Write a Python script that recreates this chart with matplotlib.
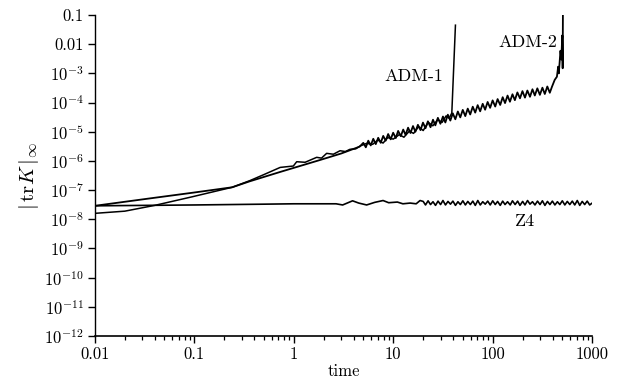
import matplotlib
matplotlib.use("Agg")
import matplotlib.pyplot as plt
from matplotlib.ticker import FixedLocator, NullLocator, LogLocator, NullFormatter

plt.rcParams['font.family'] = 'serif'
plt.rcParams['font.serif'] = ['cmr10']
plt.rcParams['mathtext.fontset'] = 'cm'
plt.rcParams['axes.formatter.use_mathtext'] = True

################## DATA ##############

# ADM-1: starts low, wiggles above ADM-2 for t ~ 0.5-5, blows up near t ~ 42
adm1_t = [0.01, 0.02, 0.04, 0.095, 0.24, 0.36, 0.5, 0.73, 0.99, 1.07, 1.3, 1.7,
          1.9, 2.14, 2.5, 2.92, 3.3, 3.67, 4.2, 4.63, 5.4, 6.2, 7.0, 7.9, 8.8,
          10.0, 11.5, 12.8, 14.5, 16.0, 18.0, 20.0, 22.5, 25.0, 28.0, 31.0,
          34.0, 36.5, 38.8, 42.2]
adm1_v = [1.6e-8, 1.9e-8, 3.0e-8, 5.9e-8, 1.25e-7, 2.1e-7, 3.4e-7, 6.0e-7,
          6.7e-7, 9.4e-7, 9.0e-7, 1.33e-6, 1.25e-6, 1.82e-6, 1.7e-6, 2.24e-6,
          2.1e-6, 2.5e-6, 2.6e-6, 3.24e-6, 4.0e-6, 3.7e-6, 5.2e-6, 4.1e-6,
          6.3e-6, 5.6e-6, 8.0e-6, 6.5e-6, 1.05e-5, 8.8e-6, 1.5e-5, 1.1e-5,
          2.1e-5, 1.6e-5, 2.6e-5, 2.1e-5, 3.5e-5, 2.9e-5, 4.4e-5, 4.5e-2]

# ADM-2: smooth early rise ...
adm2_early_t = [0.01, 0.0357, 0.095, 0.24, 0.36, 0.73, 1.84, 3.0, 4.6]
adm2_early_v = [2.9e-8, 5.2e-8, 8.1e-8, 1.25e-7, 2.0e-7, 4.2e-7, 1.08e-6, 1.8e-6, 3.1e-6]
# ... noisy band from t ~ 5 to 400 ...
adm2_band_t = [5.00, 5.30, 5.61, 5.94, 6.30, 6.67, 7.06, 7.48, 7.93, 8.39,
               8.89, 9.42, 9.98, 10.6, 11.2, 11.9, 12.6, 13.3, 14.1, 14.9,
               15.8, 16.7, 17.7, 18.8, 19.9, 21.1, 22.3, 23.7, 25.1, 26.5,
               28.1, 29.8, 31.6, 33.4, 35.4, 37.5, 39.7, 42.1, 44.6, 47.2,
               50.0, 53.0, 56.1, 59.4, 63.0, 66.7, 70.6, 74.8, 79.3, 83.9,
               88.9, 94.2, 99.8, 106, 112, 119, 126, 133, 141, 149,
               158, 167, 177, 188, 199, 211, 223, 237, 251, 265,
               281, 298, 316, 334, 354, 375, 394]
adm2_band_v = [4.17e-6, 2.93e-6, 4.95e-6, 3.40e-6, 5.74e-6, 3.77e-6, 6.22e-6, 4.18e-6, 7.21e-6, 4.95e-6,
               8.36e-6, 5.50e-6, 9.27e-6, 6.08e-6, 1.07e-5, 7.06e-6, 1.19e-5, 7.82e-6, 1.38e-5, 9.08e-6,
               1.57e-5, 1.00e-5, 1.73e-5, 1.14e-5, 2.06e-5, 1.32e-5, 2.28e-5, 1.43e-5, 2.59e-5, 1.66e-5,
               3.00e-5, 1.88e-5, 3.33e-5, 2.08e-5, 3.85e-5, 2.42e-5, 4.28e-5, 2.68e-5, 4.95e-5, 3.11e-5,
               5.62e-5, 3.44e-5, 6.22e-5, 3.91e-5, 7.23e-5, 4.53e-5, 8.18e-5, 5.02e-5, 9.08e-5, 5.69e-5,
               1.05e-4, 6.61e-5, 1.19e-4, 7.31e-5, 1.32e-4, 8.30e-5, 1.53e-4, 9.62e-5, 1.74e-4, 1.07e-4,
               1.93e-4, 1.21e-4, 2.23e-4, 1.40e-4, 2.47e-4, 1.48e-4, 2.59e-4, 1.58e-4, 2.86e-4, 1.75e-4,
               3.08e-4, 1.84e-4, 3.24e-4, 1.97e-4, 3.56e-4, 2.17e-4, 3.47e-4]
# ... and blow-up near t ~ 500
adm2_blowup_t = [420, 442, 455, 462, 480, 490, 500, 505, 508]
adm2_blowup_v = [6.0e-4, 7.7e-4, 1.7e-3, 1.0e-3, 6.0e-3, 3.0e-3, 2.0e-2, 1.5e-3, 0.13]

# Z4: stays flat around 3-4e-8 for the whole run
z4_early_t = [0.01, 0.1, 0.5, 1.0, 2.66, 3.1, 3.9, 4.5, 5.4, 6.5, 7.9, 9.0,
              11.0, 12.5, 14.8, 17.0, 18.6]
z4_early_v = [2.9e-8, 3.1e-8, 3.3e-8, 3.4e-8, 3.4e-8, 3.1e-8, 4.3e-8, 3.6e-8,
              3.1e-8, 3.8e-8, 4.4e-8, 3.7e-8, 3.9e-8, 3.4e-8, 3.6e-8, 3.4e-8, 4.4e-8]
z4_band_t = [20.0, 21.1, 22.4, 23.7, 25.1, 26.6, 28.2, 29.9, 31.6, 33.5,
             35.5, 37.6, 39.8, 42.2, 44.7, 47.3, 50.1, 53.1, 56.2, 59.6,
             63.1, 66.8, 70.8, 75.0, 79.4, 84.1, 89.1, 94.4, 100, 106,
             112, 119, 126, 133, 141, 150, 158, 168, 178, 188,
             200, 211, 224, 237, 251, 266, 282, 299, 316, 335,
             355, 376, 398, 422, 447, 473, 501, 531, 562, 596,
             631, 668, 708, 750, 794, 841, 891, 944, 1000]
z4_band_v = [4.1e-8, 3.1e-8, 4.3e-8, 3.2e-8, 4.0e-8, 3.0e-8, 4.2e-8, 3.2e-8, 4.4e-8, 3.1e-8,
             4.1e-8, 3.3e-8, 4.2e-8, 3.0e-8, 4.0e-8, 3.2e-8, 4.3e-8, 3.1e-8, 4.1e-8, 3.2e-8,
             4.2e-8, 3.0e-8, 4.4e-8, 3.1e-8, 4.0e-8, 3.3e-8, 4.2e-8, 3.1e-8, 4.3e-8, 3.2e-8,
             4.1e-8, 3.0e-8, 4.2e-8, 3.2e-8, 4.0e-8, 3.1e-8, 4.3e-8, 3.2e-8, 4.2e-8, 3.0e-8,
             4.1e-8, 3.1e-8, 4.4e-8, 3.3e-8, 4.0e-8, 3.1e-8, 4.2e-8, 3.2e-8, 4.3e-8, 3.0e-8,
             4.1e-8, 3.2e-8, 4.2e-8, 3.1e-8, 4.0e-8, 3.2e-8, 4.3e-8, 3.1e-8, 4.1e-8, 3.2e-8,
             4.2e-8, 3.1e-8, 4.4e-8, 3.0e-8, 4.1e-8, 3.2e-8, 4.2e-8, 3.1e-8, 3.6e-8]

y_ticks = [1e-12, 1e-11, 1e-10, 1e-9, 1e-8, 1e-7, 1e-6, 1e-5, 1e-4, 1e-3, 1e-2, 1e-1]
y_ticklabels = [r'$10^{-12}$', r'$10^{-11}$', r'$10^{-10}$', r'$10^{-9}$',
                r'$10^{-8}$', r'$10^{-7}$', r'$10^{-6}$', r'$10^{-5}$',
                r'$10^{-4}$', r'$10^{-3}$', '0.01', '0.1']
x_ticks = [0.01, 0.1, 1, 10, 100, 1000]
x_ticklabels = ['0.01', '0.1', '1', '10', '100', '1000']

adm2_t = adm2_early_t + adm2_band_t + adm2_blowup_t
adm2_v = adm2_early_v + adm2_band_v + adm2_blowup_v
z4_t = z4_early_t + z4_band_t
z4_v = z4_early_v + z4_band_v

################## PLOT ##############

fig = plt.figure(figsize=(6.24, 3.86), dpi=100)
ax = fig.add_axes([0.152, 0.1295, 0.797, 0.8315])

ax.plot(adm1_t, adm1_v, color='black', lw=1.1)
ax.plot(adm2_t, adm2_v, color='black', lw=1.3)
ax.plot(z4_t, z4_v, color='black', lw=1.2)

ax.set_xscale('log')
ax.set_yscale('log')
ax.set_xlim(0.01, 1000)
ax.set_ylim(1e-12, 1e-1)

ax.xaxis.set_major_locator(FixedLocator(x_ticks))
ax.set_xticklabels(x_ticklabels)
ax.xaxis.set_minor_locator(LogLocator(base=10, subs=range(2, 10)))
ax.xaxis.set_minor_formatter(NullFormatter())
ax.yaxis.set_major_locator(FixedLocator(y_ticks))
ax.set_yticklabels(y_ticklabels)
ax.yaxis.set_minor_locator(NullLocator())

for side in ['top', 'right']:
    ax.spines[side].set_visible(False)
ax.spines['left'].set_linewidth(1.0)
ax.spines['bottom'].set_linewidth(1.2)
ax.tick_params(which='major', direction='out', length=5, width=1.0, labelsize=12, pad=3)
ax.tick_params(which='minor', direction='out', length=3, width=0.9)

ax.set_xlabel('time', fontsize=12, labelpad=1)
ax.set_ylabel(r'$|\,\mathrm{tr}K\,|_\infty$', fontsize=15, labelpad=2)

ax.text(32, 8e-4, 'ADM-1', ha='right', va='center', fontsize=13)
ax.text(445, 1.2e-2, 'ADM-2', ha='right', va='center', fontsize=13)
ax.text(212, 8.7e-9, 'Z4', ha='center', va='center', fontsize=13)

fig.savefig('out.png', dpi=100)
